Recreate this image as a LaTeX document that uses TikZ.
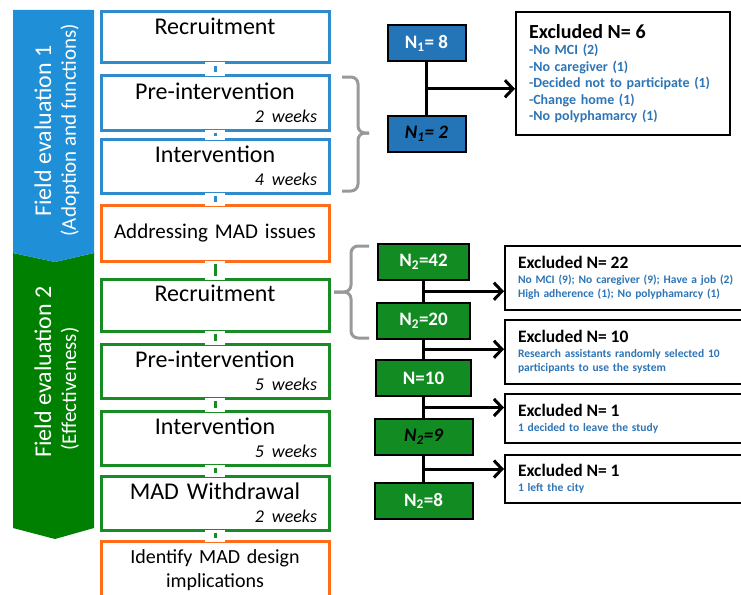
\documentclass[tikz,border=0pt]{standalone}
\usepackage{fontspec}
\setmainfont{Carlito}
\usetikzlibrary{arrows.meta,positioning,calc}

\definecolor{bandblue}{HTML}{1F8FD8}
\definecolor{bandgreen}{HTML}{008000}
\definecolor{stageblue}{HTML}{2E8BCC}
\definecolor{stagegreen}{HTML}{168C23}
\definecolor{stageorange}{HTML}{FF6D1A}
\definecolor{nblue}{HTML}{2474B8}
\definecolor{ngreen}{HTML}{128C22}
\definecolor{exblue}{HTML}{2E75B6}
\definecolor{bracegray}{HTML}{999999}

\newcommand{\wklabel}[1]{\makebox[\hsize][r]{\fontsize{18}{18}\selectfont\itshape #1}}

\begin{document}
\begin{tikzpicture}[x=1pt, y=-1pt,
    % --- styles ---
    stage/.style={rectangle, draw=#1, line width=3pt, fill=white, minimum width=228pt,
                  inner xsep=6pt, inner ysep=2pt, text width=204pt, align=center,
                  font=\fontsize{24}{23}\selectfont},
    bandtext/.style={rotate=90, text=white, font=\fontsize{24}{26}\selectfont},
    bandsub/.style={rotate=90, text=white, font=\fontsize{21}{23}\selectfont},
    nbox/.style={rectangle, draw=black, line width=2pt, fill=#1, text=white,
                 minimum height=36pt, inner sep=2pt, font=\bfseries\fontsize{19}{21}\selectfont},
    exbox/.style={rectangle, draw=black, line width=2pt, fill=white, align=left,
                  text=exblue, inner xsep=13pt, inner ysep=2pt},
    brace/.style={draw=bracegray, line width=3pt, rounded corners=7pt},
    flow/.style={draw=black, line width=2.5pt},
    arrow/.style={draw=black, line width=3pt, -{Straight Barb[length=8pt, width=17pt]}}
  ]
  \useasboundingbox (0,0) rectangle (741,594);

  % --- side bands ---
  \fill[bandgreen] (13,253) -- (55,262) -- (94,253) -- (94,528) -- (55,539) -- (13,528) -- cycle;
  \fill[bandblue] (13,10) -- (94,10) -- (94,253) -- (55,262) -- (13,253) -- cycle;
  \node[bandtext] (fe1) at (43,131) {Field evaluation 1};
  \node[bandsub] (fe1s) at (70,130) {(Adoption and functions)};
  \node[bandtext] (fe2) at (43,372) {Field evaluation 2};
  \node[bandsub] (fe2s) at (70,389) {(Effectiveness)};

  % --- stages ---
  \node[stage=stageblue, minimum height=51pt] (rec1) at (215,37.5) {Recruitment\\\wklabel{\phantom{2 weeks}}};
  \node[stage=stageblue, minimum height=55pt] (pre1) at (215,102.5) {Pre-intervention\\\wklabel{2 weeks}};
  \node[stage=stageblue, minimum height=54pt] (int1) at (215,166) {Intervention\\\wklabel{4 weeks}};
  \node[stage=stageorange, minimum height=56pt, font=\fontsize{21}{23}\selectfont] (addr) at (215,233) {Addressing MAD issues};
  \node[stage=stagegreen, minimum height=52pt] (rec2) at (215,305) {Recruitment\\\wklabel{\phantom{5 weeks}}};
  \node[stage=stagegreen, minimum height=54pt] (pre2) at (215,371) {Pre-intervention\\\wklabel{5 weeks}};
  \node[stage=stagegreen, minimum height=54pt] (int2) at (215,438) {Intervention\\\wklabel{5 weeks}};
  \node[stage=stagegreen, minimum height=54pt] (wd) at (215,503) {MAD Withdrawal\\\wklabel{2 weeks}};
  \node[stage=stageorange, minimum height=59pt, font=\fontsize{20}{24}\selectfont] (impl) at (215,570.5) {Identify MAD design\\implications};

  % ticks between stages
  \foreach \a/\b/\c in {rec1/pre1/stageblue, pre1/int1/stageblue, int1/addr/stageblue,
                        addr/rec2/stagegreen, rec2/pre2/stagegreen, pre2/int2/stagegreen,
                        int2/wd/stagegreen, wd/impl/stagegreen} {
    \draw[white, line width=20pt, shorten <=-2pt, shorten >=-2pt] (\a.south) -- (\b.north);
    \draw[\c, line width=3pt, shorten <=1.5pt, shorten >=1.5pt] (\a.south) -- (\b.north);
  }

  % braces
  \draw[brace] (342,77) -- (358,77) -- (358,133) -- (369,133);
  \draw[brace] (342,191) -- (358,191) -- (358,133) -- (369,133);
  \draw[brace] (369,246) -- (351,246) -- (351,292) -- (334,292);
  \draw[brace] (369,338) -- (351,338) -- (351,292) -- (334,292);

  % --- participant counts ---
  \node[nbox=nblue, minimum width=78pt] (n1a) at (426.5,43.5) {N\textsubscript{1}= 8};
  \node[nbox=nblue, minimum width=78pt, text=black] (n1b) at (426.5,134) {\itshape N\textsubscript{1}= 2};
  \node[nbox=ngreen, minimum width=91pt] (n2a) at (423.5,262) {N\textsubscript{2}=42};
  \node[nbox=ngreen, minimum width=93pt] (n2b) at (423.5,320.5) {N\textsubscript{2}=20};
  \node[nbox=ngreen, minimum width=95pt] (n2c) at (423.5,378) {N=10};
  \node[nbox=ngreen, minimum width=98pt, text=black] (n2d) at (423.5,437) {\itshape N\textsubscript{2}=9};
  \node[nbox=ngreen, minimum width=98pt] (n2e) at (423.5,501) {N\textsubscript{2}=8};

  % --- exclusions ---
  \node[exbox, minimum width=214pt, minimum height=123pt, text width=188pt,
        font=\bfseries\fontsize{14}{16.5}\selectfont] (ex6) at (623,73.5)
    {{\color{black}\fontsize{20}{22}\selectfont Excluded N= 6}\\
     -No MCI (2)\\ -No caregiver (1)\\ -Decided not to participate (1)\\
     -Change home (1)\\ -No polyphamarcy (1)};
  \node[exbox, minimum width=262pt, minimum height=64pt, text width=236pt,
        font=\bfseries\fontsize{11.5}{14}\selectfont] (ex22) at (636,278)
    {{\color{black}\fontsize{17.5}{19}\selectfont Excluded N= 22}\\[1pt]
     No MCI (9); No caregiver (9); Have a job (2)\\ High adherence (1); No polyphamarcy (1)};
  \node[exbox, minimum width=262pt, minimum height=64pt, text width=236pt,
        font=\bfseries\fontsize{11.5}{14}\selectfont] (ex10) at (636,352)
    {{\color{black}\fontsize{17.5}{19}\selectfont Excluded N= 10}\\[1pt]
     Research assistants randomly selected 10\\ participants to use the system};
  \node[exbox, minimum width=262pt, minimum height=49pt, text width=236pt,
        font=\bfseries\fontsize{11.5}{14}\selectfont] (ex1a) at (636,418.5)
    {{\color{black}\fontsize{17.5}{19}\selectfont Excluded N= 1}\\[1pt]
     1 decided to leave the study};
  \node[exbox, minimum width=262pt, minimum height=48pt, text width=236pt,
        font=\bfseries\fontsize{11.5}{14}\selectfont] (ex1b) at (636,479)
    {{\color{black}\fontsize{17.5}{19}\selectfont Excluded N= 1}\\[1pt]
     1 left the city};

  % --- flow lines ---
  \draw[flow] (n1a) -- (n1b);
  \draw[flow] (n2a) -- (n2b);
  \draw[flow] (n2b) -- (n2c);
  \draw[flow] (n2c) -- (n2d);
  \draw[flow] (n2d) -- (n2e);
  \coordinate (j1) at ($(n1a.south)!0.5!(n1b.north)$);
  \coordinate (j2) at ($(n2a.south)!0.5!(n2b.north)$);
  \coordinate (j3) at ($(n2b.south)!0.5!(n2c.north)$);
  \coordinate (j4) at ($(n2c.south)!0.5!(n2d.north)$);
  \coordinate (j5) at ($(n2d.south)!0.5!(n2e.north)$);
  \draw[arrow] (j1) -- (j1 -| ex6.west);
  \draw[arrow] (j2) -- (j2 -| ex22.west);
  \draw[arrow] (j3) -- (j3 -| ex10.west);
  \draw[arrow] (j4) -- (j4 -| ex1a.west);
  \draw[arrow] (j5) -- (j5 -| ex1b.west);
\end{tikzpicture}
\end{document}
